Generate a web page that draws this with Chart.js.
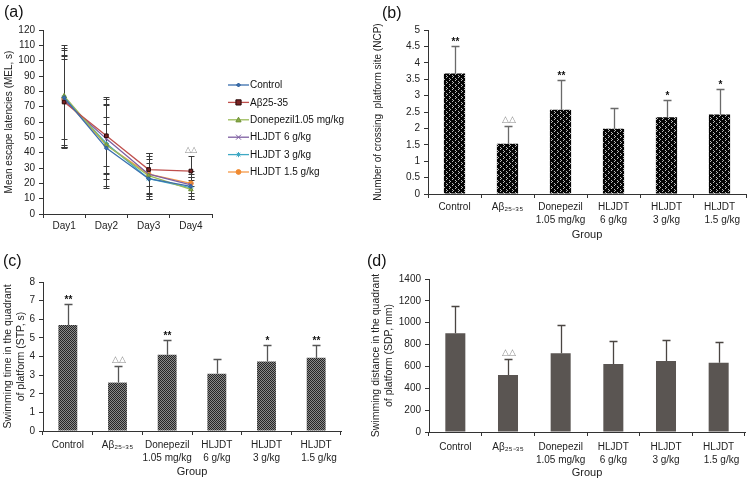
<!DOCTYPE html>
<html>
<head>
<meta charset="utf-8">
<script src="https://cdn.jsdelivr.net/npm/chart.js@4.4.1/dist/chart.umd.min.js"></script>
<style>
html,body{margin:0;padding:0;background:#fff;width:749px;height:483px;overflow:hidden;}
.panel{position:absolute;}
.panel canvas{display:block;}
.lbl{position:absolute;font-family:'Liberation Sans',Arial,sans-serif;font-size:16px;color:#111;line-height:1;}
</style>
</head>
<body>
<div class="panel" style="left:0;top:0"><canvas id="ca" width="370" height="240"></canvas></div>
<div class="panel" style="left:370px;top:0"><canvas id="cb" width="379" height="240"></canvas></div>
<div class="panel" style="left:0;top:240px"><canvas id="cc" width="370" height="243"></canvas></div>
<div class="panel" style="left:370px;top:240px"><canvas id="cd" width="379" height="243"></canvas></div>
<div class="lbl" style="left:4px;top:4px">(a)</div>
<div class="lbl" style="left:382px;top:5px">(b)</div>
<div class="lbl" style="left:3px;top:253px">(c)</div>
<div class="lbl" style="left:367px;top:253px">(d)</div>
<script>
// ---------- data ----------
const days = ['Day1', 'Day2', 'Day3', 'Day4'];
const seriesNames = ['Control', 'Aβ25-35', 'Donepezil1.05 mg/kg', 'HLJDT 6 g/kg', 'HLJDT 3 g/kg', 'HLJDT 1.5 g/kg'];
const melControl   = [76, 43, 23, 18];
const melAbeta     = [73, 51, 29, 28];
const melDonepezil = [77, 45, 25, 16];
const melHLJDT6    = [74, 49, 26, 19];
const melHLJDT3    = [76, 46, 23, 17];
const melHLJDT15   = [75, 45, 26, 20];
const melControlSD   = [32, 20, 13, 8];
const melAbetaSD     = [30, 25, 11, 10];
const melDonepezilSD = [33, 27, 15, 6];
const melHLJDT6SD    = [30, 22, 12, 5];
const melHLJDT3SD    = [31, 29, 10, 7];
const melHLJDT15SD   = [26, 14, 14, 8];
const melMarks = ['', '', '', '△△'];

const groups = [['Control'], ['Aβ₂₅₋₃₅'], ['Donepezil', '1.05 mg/kg'], ['HLJDT', '6 g/kg'], ['HLJDT', '3 g/kg'], ['HLJDT', '  1.5 g/kg']];

const ncpMean = [3.67, 1.53, 2.57, 1.99, 2.34, 2.42];
const ncpSD   = [0.85, 0.55, 0.91, 0.63, 0.54, 0.77];
const ncpMarks = ['**', '△△', '**', '', '*', '*'];

const stpMean = [5.69, 2.60, 4.09, 3.08, 3.73, 3.93];
const stpSD   = [1.15, 0.88, 0.80, 0.80, 0.89, 0.69];
const stpMarks = ['**', '△△', '**', '', '*', '**'];

const sdpMean = [904, 521, 720, 622, 650, 634];
const sdpSD   = [248, 147, 260, 211, 189, 193];
const sdpMarks = ['', '△△', '', '', '', ''];

// ---------- styling helpers ----------
const F = "'Liberation Sans', Arial, sans-serif";
const AX = '#333';
const TXT = '#222';

function makePattern(kind) {
  const c = document.createElement('canvas');
  const g = c.getContext('2d');
  if (kind === 'dots') {
    c.width = 6; c.height = 6;
    g.fillStyle = '#050505'; g.fillRect(0, 0, 6, 6);
    g.fillStyle = '#bdbdbd';
    g.fillRect(1, 0, 1, 1); g.fillRect(2, 1, 1, 1); g.fillRect(1, 2, 1, 1);
    g.fillRect(4, 3, 1, 1); g.fillRect(5, 4, 1, 1); g.fillRect(4, 5, 1, 1);
  } else {
    c.width = 2; c.height = 2;
    g.fillStyle = '#8a8a8a'; g.fillRect(0, 0, 2, 2);
    g.fillStyle = '#262626'; g.fillRect(0, 0, 1, 1); g.fillRect(1, 1, 1, 1);
  }
  return g.createPattern(c, 'repeat');
}

function drawMarker(ctx, ds, x, y) {
  const r = ds.pointRadius;
  ctx.save();
  ctx.fillStyle = ds.pointBackgroundColor;
  ctx.strokeStyle = ds.pointBorderColor;
  ctx.lineWidth = 1;
  ctx.beginPath();
  switch (ds.pointStyle) {
    case 'rect': ctx.rect(x - r, y - r, 2 * r, 2 * r); ctx.fill(); ctx.stroke(); break;
    case 'rectRot': ctx.moveTo(x, y - r); ctx.lineTo(x + r, y); ctx.lineTo(x, y + r); ctx.lineTo(x - r, y); ctx.closePath(); ctx.fill(); ctx.stroke(); break;
    case 'triangle': ctx.moveTo(x, y - r); ctx.lineTo(x + r, y + r * 0.8); ctx.lineTo(x - r, y + r * 0.8); ctx.closePath(); ctx.fill(); ctx.stroke(); break;
    case 'crossRot': ctx.moveTo(x - r, y - r); ctx.lineTo(x + r, y + r); ctx.moveTo(x + r, y - r); ctx.lineTo(x - r, y + r); ctx.stroke(); break;
    case 'star': ctx.moveTo(x - r, y); ctx.lineTo(x + r, y); ctx.moveTo(x, y - r); ctx.lineTo(x, y + r); ctx.moveTo(x - r * .7, y - r * .7); ctx.lineTo(x + r * .7, y + r * .7); ctx.moveTo(x + r * .7, y - r * .7); ctx.lineTo(x - r * .7, y + r * .7); ctx.stroke(); break;
    default: ctx.arc(x, y, r, 0, Math.PI * 2); ctx.fill(); ctx.stroke();
  }
  ctx.restore();
}

function yAxis(min, max, step, title, titleSize, titlePad, width) {
  return {
    min: min, max: max,
    ticks: { stepSize: step, font: { size: 10, family: F }, color: TXT, padding: 4, callback: v => String(v) },
    grid: { drawOnChartArea: false, drawTicks: true, tickLength: 4, color: AX },
    border: { display: true, color: AX, width: 1 },
    title: { display: true, text: title, font: { size: titleSize, family: F, lineHeight: 1.2 }, color: TXT, padding: { top: titlePad, bottom: 0 } },
    afterFit(s) { s.width = width; }
  };
}

function xAxis(labelPad, titleText, titlePadBottom, height) {
  return {
    type: 'category', offset: true,
    grid: { offset: true, drawOnChartArea: false, drawTicks: true, tickLength: 4, color: AX },
    border: { display: true, color: AX, width: 1 },
    ticks: { font: { size: 10, family: F, lineHeight: 1.3 }, color: TXT, padding: labelPad, maxRotation: 0, autoSkip: false },
    title: { display: !!titleText, text: titleText, font: { size: 11, family: F, lineHeight: 1 }, color: TXT, padding: { top: 0, bottom: titlePadBottom } },
    afterFit(s) { s.height = height; }
  };
}

// error bars + significance marks for line chart
const lineErrPlugin = {
  id: 'lineErr',
  beforeDatasetsDraw(chart) {
    const ctx = chart.ctx, ys = chart.scales.y;
    ctx.save();
    ctx.strokeStyle = '#3a3a3a'; ctx.lineWidth = 1;
    chart.data.datasets.forEach((ds, i) => {
      chart.getDatasetMeta(i).data.forEach((pt, j) => {
        const x = Math.round(pt.x) + 0.5;
        const t = Math.round(ys.getPixelForValue(ds.data[j] + ds.sd[j])) + 0.5;
        const b = Math.round(ys.getPixelForValue(ds.data[j] - ds.sd[j])) + 0.5;
        ctx.beginPath();
        ctx.moveTo(x, t); ctx.lineTo(x, b);
        ctx.moveTo(x - 3, t); ctx.lineTo(x + 3, t);
        ctx.moveTo(x - 3, b); ctx.lineTo(x + 3, b);
        ctx.stroke();
      });
    });
    ctx.restore();
  },
  afterDatasetsDraw(chart) {
    const ctx = chart.ctx, ys = chart.scales.y, xs = chart.scales.x;
    const marks = chart.options.plugins.lineErr.marks;
    ctx.save();
    ctx.font = '8px ' + F; ctx.fillStyle = '#888'; ctx.textAlign = 'center'; ctx.textBaseline = 'bottom';
    marks.forEach((m, j) => {
      if (!m) return;
      let top = -Infinity;
      chart.data.datasets.forEach(ds => { top = Math.max(top, ds.data[j] + ds.sd[j]); });
      ctx.fillText(m, xs.getPixelForValue(j), ys.getPixelForValue(top) - 2);
    });
    ctx.restore();
  }
};

const legendAPlugin = {
  id: 'legA',
  afterDraw(chart) {
    const ctx = chart.ctx, ca = chart.chartArea;
    ctx.save();
    ctx.font = '10px ' + F; ctx.textBaseline = 'middle'; ctx.textAlign = 'left';
    chart.data.datasets.forEach((ds, i) => {
      const x0 = ca.right + 16, y = ca.top + 55 + i * 17.4;
      ctx.strokeStyle = ds.borderColor; ctx.lineWidth = 1.3;
      ctx.beginPath(); ctx.moveTo(x0, y); ctx.lineTo(x0 + 21, y); ctx.stroke();
      drawMarker(ctx, ds, x0 + 10.5, y);
      ctx.fillStyle = '#111';
      ctx.fillText(ds.label, x0 + 22, y + 0.5);
    });
    ctx.restore();
  }
};

// error bars (upper only) + marks for bar charts
const barErrPlugin = {
  id: 'barErr',
  afterDatasetsDraw(chart) {
    const ctx = chart.ctx, ys = chart.scales.y;
    const o = chart.options.plugins.barErr;
    chart.data.datasets.forEach((ds, i) => {
      chart.getDatasetMeta(i).data.forEach((bar, j) => {
        const x = Math.round(bar.x) + 0.5;
        const t = Math.round(ys.getPixelForValue(ds.data[j] + ds.sd[j])) + 0.5;
        ctx.save();
        ctx.strokeStyle = o.color; ctx.lineWidth = 1.3;
        ctx.beginPath();
        ctx.moveTo(x, bar.y); ctx.lineTo(x, t);
        ctx.moveTo(x - 4, t); ctx.lineTo(x + 4, t);
        ctx.stroke();
        const m = ds.marks[j];
        if (m) {
          const tri = m.indexOf('△') >= 0;
          ctx.font = (tri ? '9px ' : 'bold 10px ') + F;
          ctx.fillStyle = tri ? '#8a8a8a' : '#111';
          ctx.textAlign = 'center'; ctx.textBaseline = 'alphabetic';
          ctx.fillText(m, x, t - (tri ? 5 : 2));
        }
        ctx.restore();
      });
    });
  }
};

Chart.defaults.font.family = F;
Chart.defaults.color = TXT;

function lineDs(label, data, sd, color, style, bg, bc, r) {
  return {
    label: label, data: data, sd: sd,
    borderColor: color, backgroundColor: color, borderWidth: 1.3,
    pointStyle: style, pointRadius: r, pointBackgroundColor: bg, pointBorderColor: bc,
    pointBorderWidth: 1, tension: 0
  };
}

// ---------- (a) ----------
new Chart(document.getElementById('ca'), {
  type: 'line',
  data: {
    labels: days,
    datasets: [
      lineDs(seriesNames[0], melControl, melControlSD, '#3a6fae', 'rectRot', '#3a6fae', '#2a5a96', 2),
      lineDs(seriesNames[1], melAbeta, melAbetaSD, '#c0504d', 'rect', '#7a2323', '#2b0b0b', 2.6),
      lineDs(seriesNames[2], melDonepezil, melDonepezilSD, '#9bbb59', 'triangle', '#8aab48', '#6f9236', 2.6),
      lineDs(seriesNames[3], melHLJDT6, melHLJDT6SD, '#7e5ea1', 'crossRot', '#7e5ea1', '#7e5ea1', 2.5),
      lineDs(seriesNames[4], melHLJDT3, melHLJDT3SD, '#3ea8c4', 'star', '#3ea8c4', '#3ea8c4', 2.6),
      lineDs(seriesNames[5], melHLJDT15, melHLJDT15SD, '#f59a4a', 'circle', '#f08a30', '#f08a30', 2.4)
    ]
  },
  options: {
    responsive: false, animation: false,
    layout: { padding: { top: 30, right: 158, bottom: 0, left: 0 } },
    plugins: { legend: { display: false }, tooltip: { enabled: false }, lineErr: { marks: melMarks } },
    scales: {
      x: xAxis(1.5, '', 0, 26),
      y: yAxis(0, 120, 10, 'Mean escape latencies (MEL, s)', 10, 3, 43)
    }
  },
  plugins: [lineErrPlugin, legendAPlugin]
});

// ---------- (b) ----------
new Chart(document.getElementById('cb'), {
  type: 'bar',
  data: { labels: groups, datasets: [{ data: ncpMean, sd: ncpSD, marks: ncpMarks, backgroundColor: makePattern('dots'), borderWidth: 0, barPercentage: 0.4, categoryPercentage: 1 }] },
  options: {
    responsive: false, animation: false,
    layout: { padding: { top: 30, right: 3, bottom: 0, left: 0 } },
    plugins: { legend: { display: false }, tooltip: { enabled: false }, barErr: { color: '#6a6a6a' } },
    scales: {
      x: xAxis(2.5, 'Group', 0, 46),
      y: yAxis(0, 5, 0.5, 'Number of crossing  platform site (NCP)', 10, 2, 58)
    }
  },
  plugins: [barErrPlugin]
});

// ---------- (c) ----------
new Chart(document.getElementById('cc'), {
  type: 'bar',
  data: { labels: groups, datasets: [{ data: stpMean, sd: stpSD, marks: stpMarks, backgroundColor: makePattern('check'), borderWidth: 0, barPercentage: 0.38, categoryPercentage: 1 }] },
  options: {
    responsive: false, animation: false,
    layout: { padding: { top: 42, right: 29, bottom: 0, left: 0 } },
    plugins: { legend: { display: false }, tooltip: { enabled: false }, barErr: { color: '#555' } },
    scales: {
      x: xAxis(3.5, 'Group', 5.5, 52),
      y: yAxis(0, 8, 1, ['Swimming time in the quadrant', 'of platform (STP, s)'], 10.5, 2, 43)
    }
  },
  plugins: [barErrPlugin]
});

// ---------- (d) ----------
new Chart(document.getElementById('cd'), {
  type: 'bar',
  data: { labels: groups, datasets: [{ data: sdpMean, sd: sdpSD, marks: sdpMarks, backgroundColor: '#5a5552', borderWidth: 0, barPercentage: 0.38, categoryPercentage: 1 }] },
  options: {
    responsive: false, animation: false,
    layout: { padding: { top: 39, right: 4, bottom: 0, left: 0 } },
    plugins: { legend: { display: false }, tooltip: { enabled: false }, barErr: { color: '#4a4542' } },
    scales: {
      x: xAxis(4.5, 'Group', 4.5, 51),
      y: yAxis(0, 1400, 200, ['Swimming distance in the quadrant', 'of platform (SDP, mm)'], 10.5, 0, 59)
    }
  },
  plugins: [barErrPlugin]
});
</script>
</body>
</html>
